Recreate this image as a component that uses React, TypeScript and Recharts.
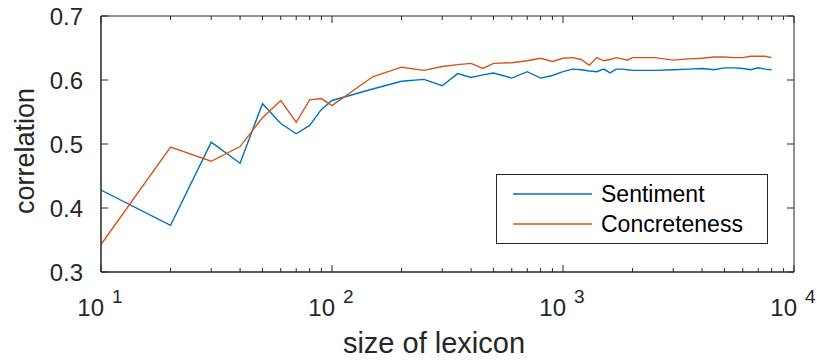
import { LineChart, Line, XAxis, YAxis, Legend, ReferenceArea } from 'recharts'

// lexicon sizes (log scale) and the correlation reached at each size
const sizes = [
  10, 20, 30, 40, 50, 60, 70, 80, 90, 100,
  150, 200, 250, 300, 350, 400, 450, 500,
  600, 700, 800, 900, 1000,
  1100, 1200, 1300, 1400, 1500, 1600, 1700, 1800, 1900, 2000,
  2500, 3000, 3500, 4000, 4500, 5000, 5500, 6000, 6500, 7000, 7500, 8000,
]

const sentiment = [
  0.428, 0.373, 0.503, 0.470, 0.563, 0.532, 0.516, 0.529, 0.554, 0.568,
  0.586, 0.598, 0.601, 0.591, 0.610, 0.604, 0.608, 0.611,
  0.603, 0.613, 0.603, 0.607, 0.613,
  0.617, 0.616, 0.614, 0.613, 0.617, 0.611, 0.617, 0.617, 0.616, 0.615,
  0.615, 0.616, 0.617, 0.618, 0.616, 0.619, 0.619, 0.618, 0.616, 0.619, 0.617, 0.616,
]

const concreteness = [
  0.343, 0.495, 0.473, 0.496, 0.541, 0.568, 0.534, 0.569, 0.571, 0.560,
  0.605, 0.620, 0.615, 0.621, 0.624, 0.626, 0.618, 0.626,
  0.627, 0.630, 0.634, 0.629, 0.634,
  0.635, 0.632, 0.623, 0.635, 0.630, 0.632, 0.635, 0.633, 0.631, 0.635,
  0.635, 0.631, 0.633, 0.634, 0.636, 0.636, 0.635, 0.635, 0.637, 0.637, 0.637, 0.635,
]

const xMajorTicks = [10, 100, 1000, 10000]
const xMinorTicks = [
  20, 30, 40, 50, 60, 70, 80, 90,
  200, 300, 400, 500, 600, 700, 800, 900,
  2000, 3000, 4000, 5000, 6000, 7000, 8000, 9000,
]
const yTicks = [0.3, 0.4, 0.5, 0.6, 0.7]

const seriesNames = ['Sentiment', 'Concreteness']

const data = sizes.map((size, i) => ({
  size,
  Sentiment: sentiment[i],
  Concreteness: concreteness[i],
}))

const W = 817
const H = 361
const PLOT = { left: 101, right: 794, top: 16, bottom: 272 }
const X_AXIS_H = 60
const Y_AXIS_W = 70
const INK = '#262626'
const FONT = '"Liberation Sans", Arial, Helvetica, sans-serif'
const MAJOR = 7
const MINOR = 4

function XTick(props: any) {
  const { x, y, payload } = props
  const v = payload.value
  const major = xMajorTicks.includes(v)
  const len = major ? MAJOR : MINOR
  const top = y - (PLOT.bottom - PLOT.top)
  return (
    <g>
      <line x1={x} y1={y} x2={x} y2={y - len} stroke={INK} strokeWidth={1} />
      <line x1={x} y1={top} x2={x} y2={top + len} stroke={INK} strokeWidth={1} />
      {major && (
        <g fill={INK} fontFamily={FONT}>
          <text x={x + 3} y={y + 44} fontSize={24} textAnchor="end">
            10
          </text>
          <text x={x + 11} y={y + 31} fontSize={19} textAnchor="start">
            {Math.round(Math.log10(v))}
          </text>
        </g>
      )}
    </g>
  )
}

function YTick(props: any) {
  const { x, y, payload } = props
  const right = x + (PLOT.right - PLOT.left)
  return (
    <g>
      <line x1={x} y1={y} x2={x + MAJOR} y2={y} stroke={INK} strokeWidth={1} />
      <line x1={right} y1={y} x2={right - MAJOR} y2={y} stroke={INK} strokeWidth={1} />
      <text x={x - 18} y={y + 9} fontSize={24} textAnchor="end" fill={INK} fontFamily={FONT}>
        {payload.value.toFixed(1)}
      </text>
    </g>
  )
}

// axis titles ignore the position recharts passes in
function XTitle() {
  return (
    <text x={434} y={353} textAnchor="middle" fontSize={29} fill={INK} fontFamily={FONT}>
      size of lexicon
    </text>
  )
}

function YTitle() {
  return (
    <text
      x={34}
      y={151}
      transform="rotate(-90 34 151)"
      textAnchor="middle"
      fontSize={27}
      fill={INK}
      fontFamily={FONT}
    >
      correlation
    </text>
  )
}

function LegendBox(props: any) {
  const items = [...(props.payload || [])].sort(
    (a: any, b: any) => seriesNames.indexOf(a.value) - seriesNames.indexOf(b.value)
  )
  return (
    <div
      style={{
        width: 270,
        height: 68,
        border: `1px solid ${INK}`,
        background: '#fff',
        fontFamily: FONT,
        fontSize: 23,
        color: '#000',
        boxSizing: 'content-box',
      }}
    >
      {items.map((item: any, i: number) => (
        <div
          key={item.value}
          style={{ display: 'flex', alignItems: 'center', height: 30, marginTop: i === 0 ? 4 : 0 }}
        >
          <svg width={104} height={30} style={{ display: 'block' }}>
            <line x1={16} y1={15} x2={95} y2={15} stroke={item.color} strokeWidth={1.5} />
          </svg>
          <span style={{ lineHeight: '30px' }}>{item.value}</span>
        </div>
      ))}
    </div>
  )
}

export default function App() {
  return (
    <div style={{ position: 'absolute', left: 0, top: 0, width: W, height: H, background: '#fff' }}>
      <LineChart
        width={W}
        height={H}
        data={data}
        margin={{
          top: PLOT.top,
          right: W - PLOT.right,
          bottom: H - PLOT.bottom - X_AXIS_H,
          left: PLOT.left - Y_AXIS_W,
        }}
      >
        <XAxis
          dataKey="size"
          type="number"
          scale="log"
          domain={[10, 10000]}
          allowDataOverflow
          ticks={[...xMajorTicks, ...xMinorTicks]}
          interval={0}
          height={X_AXIS_H}
          tickSize={0}
          tickMargin={0}
          tickLine={false}
          axisLine={{ stroke: INK, strokeWidth: 1 }}
          tick={<XTick />}
          label={<XTitle />}
        />
        <YAxis
          type="number"
          domain={[0.3, 0.7]}
          allowDataOverflow
          ticks={yTicks}
          interval={0}
          width={Y_AXIS_W}
          tickSize={0}
          tickMargin={0}
          tickLine={false}
          axisLine={{ stroke: INK, strokeWidth: 1 }}
          tick={<YTick />}
          label={<YTitle />}
        />
        <ReferenceArea
          x1={10}
          x2={10000}
          y1={0.3}
          y2={0.7}
          fill="none"
          fillOpacity={0}
          stroke={INK}
          strokeWidth={1}
        />
        <Line
          dataKey={seriesNames[0]}
          stroke="#0072BD"
          strokeWidth={1.4}
          dot={false}
          isAnimationActive={false}
        />
        <Line
          dataKey={seriesNames[1]}
          stroke="#D95319"
          strokeWidth={1.4}
          dot={false}
          isAnimationActive={false}
        />
        <Legend
          layout="vertical"
          align="center"
          verticalAlign="middle"
          content={<LegendBox />}
          wrapperStyle={{ position: 'absolute', left: 496, top: 174, width: 272, height: 70 }}
        />
      </LineChart>
    </div>
  )
}
